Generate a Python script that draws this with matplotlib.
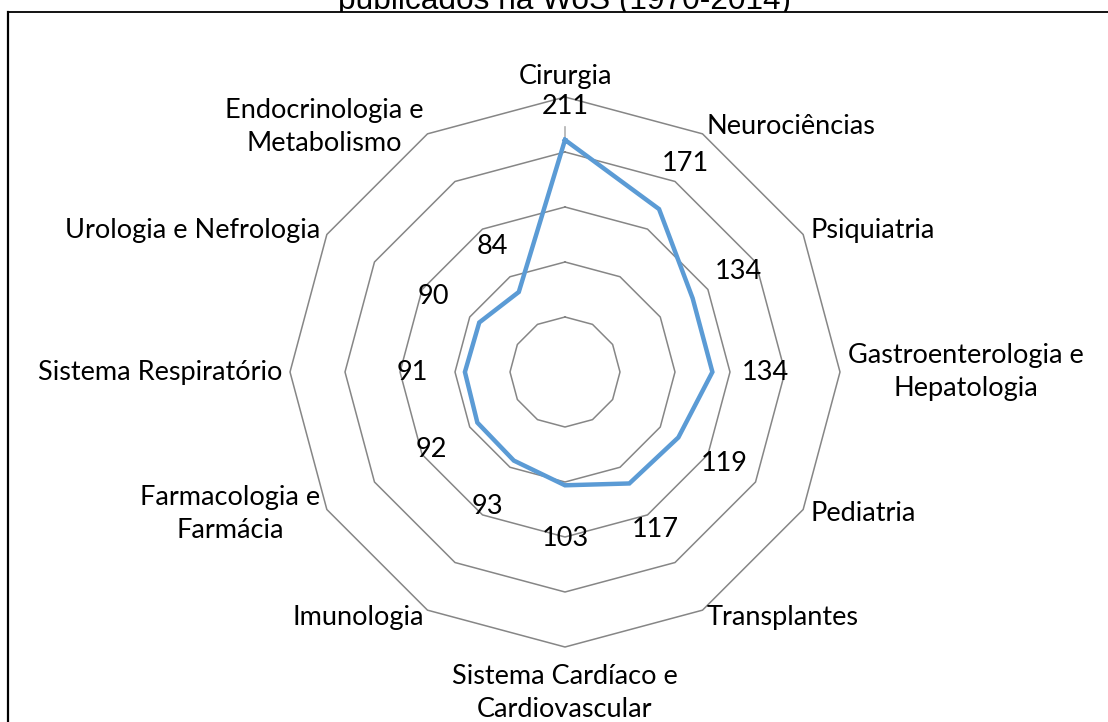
import numpy as np
import matplotlib
matplotlib.use("Agg")
import matplotlib.pyplot as plt
from matplotlib.lines import Line2D
from matplotlib.patches import Rectangle

# ---------------- data ----------------
categories = [
    "Cirurgia",
    "Neurociências",
    "Psiquiatria",
    "Gastroenterologia e\nHepatologia",
    "Pediatria",
    "Transplantes",
    "Sistema Cardíaco e\nCardiovascular",
    "Imunologia",
    "Farmacologia e\nFarmácia",
    "Sistema Respiratório",
    "Urologia e Nefrologia",
    "Endocrinologia e\nMetabolismo",
]
values = [211, 171, 134, 134, 119, 117, 103, 93, 92, 91, 90, 84]
grid_levels = [50, 100, 150, 200, 250]
title = "publicados na WoS (1970-2014)"

# ---------------- style ----------------
W_PX, H_PX = 1108, 722
CX, CY, R_PX = 565, 372, 275          # centre and outer radius in pixels
RMAX = 250
PX = RMAX / R_PX                       # data units per pixel
LABEL_FONT = ["Lato", "DejaVu Sans"]
FS = 19.5
GRID_COLOR = "#868686"
LINE_COLOR = "#5B9BD5"
TOP_Y = 12                             # chart-area top border (px)
LEFT_X = 8                             # chart-area left border (px)

fig = plt.figure(figsize=(W_PX / 100, H_PX / 100), dpi=100)
fig.patch.set_facecolor("white")

# title (partly hidden behind the chart area)
fig.text(CX / W_PX, 1 - 9 / H_PX, title, ha="center", va="baseline",
         fontsize=22.8, family=["Liberation Sans", "DejaVu Sans"],
         color="black", zorder=1)
# chart area: white fill with border at top and left
fig.add_artist(Rectangle((LEFT_X / W_PX, 0), 1 - LEFT_X / W_PX,
                         1 - TOP_Y / H_PX, transform=fig.transFigure,
                         facecolor="white", edgecolor="none", zorder=2))
fig.add_artist(Line2D([LEFT_X / W_PX, 1], [1 - TOP_Y / H_PX, 1 - TOP_Y / H_PX],
                      transform=fig.transFigure, color="black", lw=1.3,
                      zorder=3))
fig.add_artist(Line2D([LEFT_X / W_PX, LEFT_X / W_PX], [0, 1 - TOP_Y / H_PX],
                      transform=fig.transFigure, color="black", lw=1.6,
                      zorder=3))

ax = fig.add_axes([(CX - R_PX) / W_PX, (H_PX - CY - R_PX) / H_PX,
                   2 * R_PX / W_PX, 2 * R_PX / H_PX], projection="polar")
ax.set_zorder(5)
ax.patch.set_alpha(0)
ax.set_theta_zero_location("N")
ax.set_theta_direction(-1)
ax.set_ylim(0, RMAX)
ax.axis("off")

n = len(categories)
theta = np.linspace(0, 2 * np.pi, n, endpoint=False)
theta_closed = np.append(theta, theta[0])

# polygon grid
for lvl in grid_levels:
    ax.plot(theta_closed, [lvl] * (n + 1), color=GRID_COLOR, lw=1.1,
            zorder=1, clip_on=False)

# small axis tick at the top
ax.plot([0, 0], [values[0], values[0] + 13 * PX], color="#b0b0b0", lw=1.2,
        zorder=1, clip_on=False)

# data series
vals_closed = values + values[:1]
ax.plot(theta_closed, vals_closed, color=LINE_COLOR, lw=3.2, zorder=3,
        solid_joinstyle="miter", clip_on=False)

# category labels
r_lab = 283 * PX
for t, name in zip(theta, categories):
    deg = np.rad2deg(t) % 360
    r = r_lab
    if np.isclose(deg, 0):
        ha, va = "center", "bottom"
    elif np.isclose(deg, 180):
        ha, va = "center", "top"
        r = r_lab + 9 * PX
    elif deg < 180:
        ha, va = "left", "center"
    else:
        ha, va = "right", "center"
    ax.text(t, r, name, ha=ha, va=va, multialignment="center",
            fontsize=FS, family=LABEL_FONT, color="black", linespacing=1.4,
            clip_on=False)

# value labels
for t, v in zip(theta, values):
    r = min(v + 53 * PX, 266 * PX)
    ax.text(t, r, str(v), ha="center", va="center", fontsize=FS,
            family=LABEL_FONT, color="black", clip_on=False, zorder=4)

fig.savefig("out.png", dpi=100, facecolor="white")
